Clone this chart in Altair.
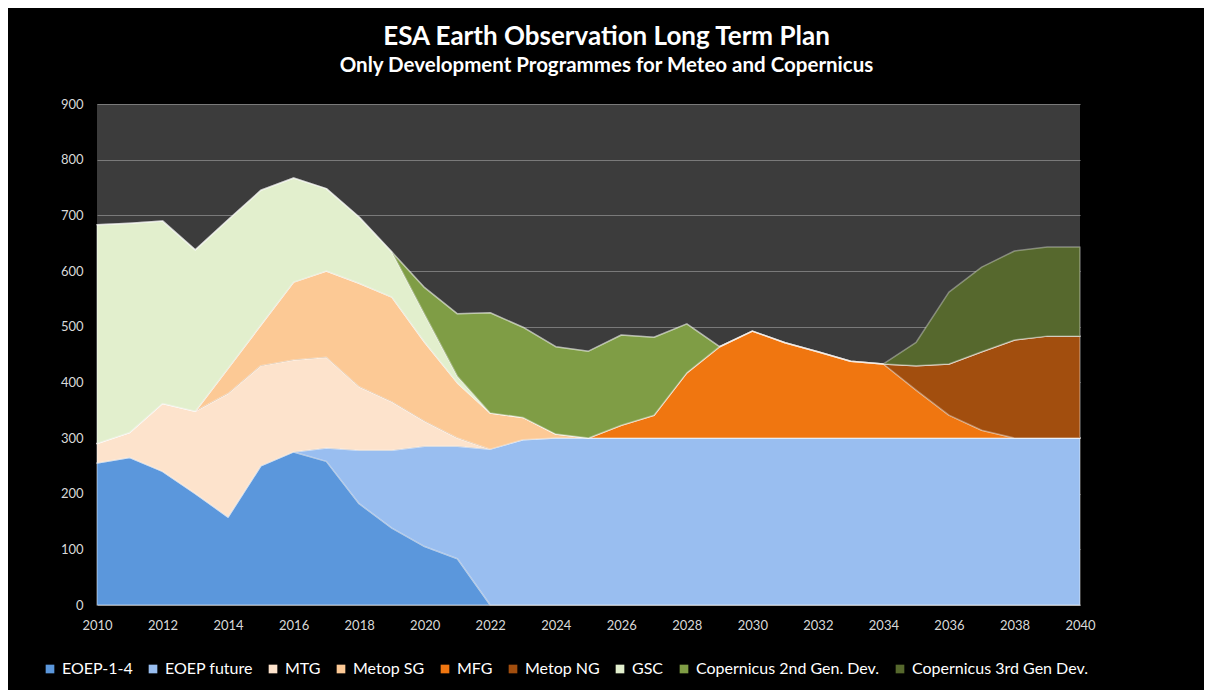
import altair as alt
import pandas as pd

years = list(range(2010, 2041))

series_names = ["EOEP-1-4", "EOEP future", "MTG", "Metop SG", "MFG", "Metop NG",
                "GSC", "Copernicus 2nd Gen. Dev.", "Copernicus 3rd Gen Dev."]
series_colors = ["#5B97DC", "#99BEF0", "#FDE3CC", "#FCC995", "#F07610", "#A24E0E",
                 "#E2EFCD", "#7F9D45", "#56682D"]

eoep_1_4 = [255, 265, 240, 200, 158, 250, 275, 258, 182, 138, 105, 83, 0] + [0] * 18
eoep_future = [0] * 7 + [24, 96, 140, 180, 202, 280, 297] + [300] * 17
mtg = [35, 45, 122, 148, 222, 180, 165, 163, 114, 87, 45, 15] + [0] * 19
metop_sg = [0, 0, 0, 0, 45, 73, 140, 155, 186, 188, 142, 99, 65, 40, 7] + [0] * 16
mfg = [0] * 15 + [0, 23, 41, 117, 164, 192, 171, 155, 138, 133, 86, 41, 14, 0, 0, 0]
metop_ng = [0] * 25 + [44, 92, 141, 176, 183, 183]
gsc = [393, 376, 328, 290, 267, 242, 187, 148, 119, 81, 50, 12] + [0] * 19
cop2 = [0] * 10 + [48, 112, 180, 162, 157, 156, 162, 140, 88, 0] + [0] * 11
cop3 = [0] * 25 + [42, 129, 152, 160, 160, 160]

all_series = [eoep_1_4, eoep_future, mtg, metop_sg, mfg, metop_ng, gsc, cop2, cop3]

y_ticks = list(range(0, 1000, 100))
x_ticks = list(range(2010, 2041, 2))

rows = []
for idx, (name, vals) in enumerate(zip(series_names, all_series)):
    for yr, v in zip(years, vals):
        rows.append({"year": yr, "value": v, "series": name, "idx": idx})
df = pd.DataFrame(rows)

FONT = "Lato"

chart = alt.Chart(df).mark_area(
    stroke="white", strokeOpacity=0.35, strokeWidth=1.5, strokeJoin="round"
).encode(
    x=alt.X("year:Q",
            scale=alt.Scale(domain=[2010, 2040], nice=False, zero=False),
            axis=alt.Axis(values=x_ticks, format="d", title=None, grid=False,
                          ticks=False, domain=False, labelColor="#d9d9d9",
                          labelFontSize=13, labelPadding=14, labelFont=FONT,
                          labelFlush=False)),
    y=alt.Y("value:Q", stack="zero",
            scale=alt.Scale(domain=[0, 900], nice=False),
            axis=alt.Axis(values=y_ticks, title=None, grid=True, gridColor="#7a7a7a",
                          gridWidth=1, ticks=False, domain=False,
                          labelColor="#d9d9d9", labelFontSize=13, labelPadding=14,
                          labelFont=FONT)),
    color=alt.Color("series:N",
                    scale=alt.Scale(domain=series_names, range=series_colors),
                    legend=alt.Legend(orient="none", legendX=-55, legendY=557,
                                      direction="horizontal", columns=9, title=None,
                                      symbolType="square", symbolSize=75,
                                      symbolStrokeWidth=0, labelColor="white",
                                      labelFontSize=16, labelFont=FONT, labelLimit=0,
                                      columnPadding=12, labelOffset=4)),
    order=alt.Order("idx:Q", sort="ascending"),
).properties(
    width=983,
    height=501,
    title=alt.TitleParams(
        text="ESA Earth Observation Long Term Plan",
        subtitle="Only Development Programmes for Meteo and Copernicus",
        anchor="middle", dx=18, offset=22,
        font=FONT, fontSize=26, fontWeight="bold", color="white",
        subtitleFont=FONT, subtitleFontSize=20.5, subtitleFontWeight="bold",
        subtitleColor="white", subtitlePadding=6,
    ),
    autosize=alt.AutoSizeParams(type="none"),
    padding={"left": 89, "top": 96, "right": 124, "bottom": 85},
    background="black",
).configure_view(
    fill="#3c3c3c", stroke=None
)

chart.save("out.html", embed_options={"renderer": "svg", "actions": False})
